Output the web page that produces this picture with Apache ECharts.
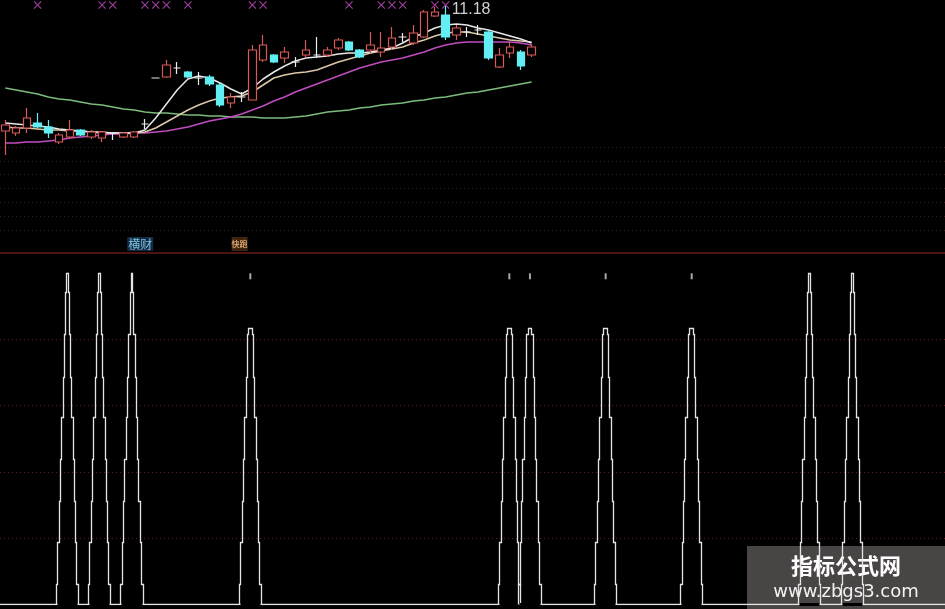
<!DOCTYPE html>
<html><head><meta charset="utf-8">
<script src="https://cdn.jsdelivr.net/npm/echarts@6/dist/echarts.min.js"></script>
<style>html,body{margin:0;padding:0;background:#000;}#c{width:945px;height:609px;}</style>
</head><body><div id="c"></div>
<script>
// ---------- data ----------
const barCount = 88;
const barLabels = Array.from({length: barCount}, (_, i) => String(i + 1));

// candles: [open, close, low, high]
const candles = [
  [8.68,8.80,8.20,8.90],[8.64,8.74,8.58,8.78],[8.74,8.94,8.64,9.14],[8.84,8.76,8.74,9.04],[8.76,8.64,8.54,8.90],
  [8.46,8.60,8.42,8.64],[8.56,8.70,8.52,8.90],[8.70,8.60,8.58,8.72],[8.56,8.66,8.52,8.70],[8.54,8.66,8.46,8.68],
  [8.64,8.64,8.50,8.64],[8.56,8.64,8.54,8.66],[8.56,8.66,8.54,8.68],[8.82,8.82,8.72,8.92],[9.74,9.74,9.74,9.74],
  [9.76,10.00,9.74,10.10],[9.94,9.94,9.82,10.06],[9.86,9.76,9.74,9.88],[9.74,9.74,9.60,9.86],[9.76,9.62,9.58,9.80],
  [9.60,9.20,9.16,9.64],[9.24,9.36,9.14,9.44],[9.36,9.36,9.26,9.46],[9.30,10.30,9.30,10.40],[10.10,10.40,10.06,10.60],
  [10.20,10.06,10.04,10.22],[10.14,10.26,10.04,10.36],[10.06,10.06,9.96,10.16],[10.20,10.30,10.14,10.50],[10.20,10.20,10.14,10.56],
  [10.20,10.30,10.16,10.36],[10.34,10.50,10.30,10.54],[10.46,10.30,10.28,10.48],[10.30,10.16,10.14,10.32],[10.30,10.40,10.24,10.66],
  [10.26,10.34,10.16,10.66],[10.36,10.54,10.30,10.76],[10.56,10.56,10.46,10.64],[10.44,10.64,10.40,10.80],[10.56,11.06,10.54,11.10],
  [10.98,11.06,10.96,11.16],[11.00,10.56,10.50,11.18],[10.60,10.74,10.50,10.80],[10.66,10.66,10.56,10.76],[10.70,10.70,10.60,10.80],
  [10.66,10.14,10.10,10.70],[9.96,10.20,9.94,10.34],[10.24,10.36,10.14,10.46],[10.26,9.98,9.90,10.30],[10.20,10.36,10.16,10.42]
];
const ma5 = [8.84,8.82,8.80,8.78,8.76,8.72,8.70,8.68,8.66,8.64,8.64,8.64,8.64,8.70,8.94,9.22,9.50,9.72,9.78,9.74,
  9.64,9.52,9.42,9.54,9.72,9.86,9.98,10.08,10.14,10.16,10.18,10.22,10.24,10.24,10.26,10.30,10.34,10.44,10.56,10.64,
  10.74,10.80,10.82,10.80,10.74,10.70,10.64,10.58,10.52,10.44];
const ma10 = [8.76,8.74,8.74,8.72,8.70,8.70,8.68,8.68,8.66,8.66,8.64,8.64,8.64,8.66,8.74,8.86,8.98,9.10,9.20,9.28,
  9.34,9.36,9.38,9.46,9.60,9.74,9.80,9.84,9.86,9.90,9.98,10.06,10.12,10.18,10.24,10.28,10.32,10.36,10.44,10.50,
  10.58,10.64,10.66,10.66,10.62,10.58,10.54,10.50,10.48,10.46];
const ma20 = [8.44,8.44,8.46,8.46,8.48,8.50,8.54,8.56,8.58,8.60,8.62,8.62,8.64,8.64,8.66,8.68,8.72,8.76,8.82,8.88,
  8.92,8.96,9.02,9.10,9.18,9.28,9.36,9.46,9.54,9.62,9.70,9.78,9.86,9.94,10.00,10.06,10.10,10.14,10.20,10.26,
  10.34,10.40,10.44,10.46,10.46,10.46,10.46,10.46,10.44,10.40];
const ma60 = [9.54,9.50,9.46,9.42,9.36,9.32,9.30,9.26,9.22,9.20,9.16,9.12,9.10,9.06,9.04,9.04,9.02,9.00,9.00,8.98,
  8.98,8.96,8.96,8.96,8.94,8.94,8.94,8.96,8.98,9.02,9.06,9.08,9.10,9.14,9.16,9.20,9.22,9.24,9.28,9.30,
  9.34,9.36,9.40,9.44,9.46,9.50,9.54,9.58,9.62,9.66];

// top signal crosses
const crossBars = [3,9,10,13,14,15,17,23,24,32,35,36,37,40,41];
const crossLevel = 11.2;
// text signals
const buyBars = [12];
const buyText = ['横财'];
const sellBars = [22];
const sellText = ['快跑'];
const textLevel = 6.42;

// lower indicator: stepped towers (x in bar units, y in indicator units)
const towerCenters = [6.27, 9.25, 12.29, 23.31, 47.43, 49.35, 56.40, 64.41, 75.40, 79.40];
const towerPeaks   = [5.0, 5.0, 5.0, 4.16, 4.16, 4.16, 4.16, 4.16, 5.0, 5.0];
const stepLevels     = [0.30, 0.93, 1.55, 2.18, 2.82, 3.43, 4.07, 4.70, 5.0];
const stepHalfWidths = [1.05, 0.90, 0.77, 0.65, 0.53, 0.40, 0.29, 0.18, 0.09];
const topTickLevel = 4.95;

// ---------- build ----------
function towerSegments(peak) {
  const segs = [];
  let lo = 0;
  for (let k = 0; k < stepLevels.length && lo < peak; k++) {
    segs.push([lo, Math.min(stepLevels[k], peak), stepHalfWidths[k]]);
    lo = stepLevels[k];
  }
  return segs;
}
const snap = v => Math.floor(v) + 0.5;
function renderTower(params, api) {
  const c = api.value(0), peak = api.value(1);
  const segs = towerSegments(peak);
  const pt = (x, y) => { const p = api.coord([x, y]); return [snap(p[0]), snap(p[1])]; };
  const pts = [];
  segs.forEach(s => { pts.push(pt(c - s[2], s[0]), pt(c - s[2], s[1])); });
  for (let k = segs.length - 1; k >= 0; k--) {
    const s = segs[k];
    pts.push(pt(c + s[2], s[1]), pt(c + s[2], s[0]));
  }
  const bl = pts[0], br = pts[pts.length - 1];
  return {type: 'group', children: [
    {type: 'rect', shape: {x: bl[0] + 1, y: bl[1] - 1.5, width: br[0] - bl[0] - 2, height: 3}, style: {fill: '#000'}},
    {type: 'polyline', shape: {points: pts}, style: {stroke: '#e4e4e4', lineWidth: 1.3, fill: null}}
  ]};
}
const tickPts = towerCenters.filter((c, i) => towerPeaks[i] < 5).map(c => [c, topTickLevel]);

const xPath = 'path://M0,1L1,0L5,4L9,0L10,1L6,5L10,9L9,10L5,6L1,10L0,9L4,5Z';

const chart = echarts.init(document.getElementById('c'), null, {renderer: 'canvas'});
const maLine = (name, data, color) => ({
  name, type: 'line', data, xAxisIndex: 0, yAxisIndex: 0, showSymbol: false, symbol: 'none',
  lineStyle: {color, width: 1.5}, z: 3, silent: true
});
chart.setOption({
  backgroundColor: '#000',
  animation: false,
  grid: [
    {left: 0, right: 0, top: 0, height: 253},
    {left: 0, right: 0, top: 147, height: 83},
    {left: 0, right: 0, top: 273, height: 331.5}
  ],
  xAxis: [
    {type: 'category', gridIndex: 0, data: barLabels, boundaryGap: true,
     axisLine: {show: true, lineStyle: {color: '#4e1414', width: 2}}, axisTick: {show: false}, axisLabel: {show: false}, splitLine: {show: false}},
    {type: 'value', gridIndex: 1, min: 0, max: 1, show: false},
    {type: 'value', gridIndex: 2, min: 0, max: barCount, show: false}
  ],
  yAxis: [
    {type: 'value', gridIndex: 0, min: 6.24, max: 11.3, show: false},
    {type: 'value', gridIndex: 1, min: 0, max: 6, interval: 1, axisLine: {show: false}, axisTick: {show: false}, axisLabel: {show: false},
     splitLine: {show: true, lineStyle: {color: '#3a1818', type: [1, 3], width: 1}}},
    {type: 'value', gridIndex: 2, min: 0, max: 5, interval: 1, axisLine: {show: false}, axisTick: {show: false}, axisLabel: {show: false},
     splitLine: {show: true, showMinLine: false, showMaxLine: false, lineStyle: {color: '#5e1c1c', type: [1, 3], width: 1}}}
  ],
  series: [
    maLine('MA60', ma60, '#7dbb7d'),
    maLine('MA20', ma20, '#c04cc0'),
    maLine('MA10', ma10, '#dcc8a8'),
    maLine('MA5', ma5, '#e6e6e6'),
    {
      name: 'K', type: 'candlestick', xAxisIndex: 0, yAxisIndex: 0, data: candles, barWidth: 8, z: 4,
      itemStyle: {color: '#000', color0: '#62eef2', borderColor: '#d85a58', borderColor0: '#62eef2', borderColorDoji: '#ececec', borderWidth: 1.2},
      markPoint: {
        symbol: 'circle', symbolSize: 0,
        data: [{type: 'max', valueDim: 'highest'}],
        label: {show: true, position: 'right', distance: 6, offset: [0, 4], color: '#d0d0d0', fontSize: 16, fontFamily: 'Liberation Sans', formatter: '{c}'}
      }
    },
    {
      name: 'cross', type: 'scatter', xAxisIndex: 0, yAxisIndex: 0, symbol: xPath, symbolSize: 8,
      data: crossBars.map(b => [b, crossLevel]), itemStyle: {color: '#c84ec8'}, z: 5
    },
    {
      name: 'buy', type: 'scatter', xAxisIndex: 0, yAxisIndex: 0, symbolSize: 0,
      data: buyBars.map((b, i) => ({value: [b, textLevel], name: buyText[i]})),
      label: {show: true, position: 'inside', offset: [6, 0], formatter: '{b}', color: '#8ee6ff', backgroundColor: '#1c3458',
              fontSize: 12, fontFamily: 'Noto Sans CJK SC', padding: [1, 1]}
    },
    {
      name: 'sell', type: 'scatter', xAxisIndex: 0, yAxisIndex: 0, symbolSize: 0,
      data: sellBars.map((b, i) => ({value: [b, textLevel], name: sellText[i]})),
      label: {show: true, position: 'inside', offset: [-2, 0], formatter: '{b}', color: '#f5c07e', backgroundColor: '#4a2c14',
              fontSize: 8, fontWeight: 'bold', fontFamily: 'Noto Sans CJK SC', padding: [3, 0], lineHeight: 8}
    },
    {
      name: 'baseline', type: 'line', xAxisIndex: 2, yAxisIndex: 2, data: [[0, 0], [barCount, 0]], showSymbol: false, symbol: 'none',
      lineStyle: {color: '#e4e4e4', width: 1.3}, z: 2
    },
    {
      name: 'tower', type: 'custom', xAxisIndex: 2, yAxisIndex: 2, encode: {x: 0, y: 1},
      data: towerCenters.map((c, i) => [c, towerPeaks[i]]), renderItem: renderTower, z: 3
    },
    {
      name: 'tick', type: 'scatter', xAxisIndex: 2, yAxisIndex: 2, data: tickPts, symbol: 'rect', symbolSize: [2, 6],
      itemStyle: {color: '#cfcfcf'}
    }
  ],
  graphic: [{
    type: 'group', right: 0, bottom: 0, z: 100,
    children: [
      {type: 'rect', shape: {x: 0, y: 0, width: 198, height: 63}, style: {fill: '#4a4545'}},
      {type: 'text', x: 99, y: 20, style: {text: '指标公式网', fill: '#ffffff', font: 'bold 22px "Noto Sans CJK SC"', align: 'center', verticalAlign: 'middle'}},
      {type: 'text', x: 99, y: 46, style: {text: 'www.zbgs3.com', fill: '#f2f2f2', font: '18px "DejaVu Sans"', align: 'center', verticalAlign: 'middle'}}
    ]
  }]
});
</script></body></html>
